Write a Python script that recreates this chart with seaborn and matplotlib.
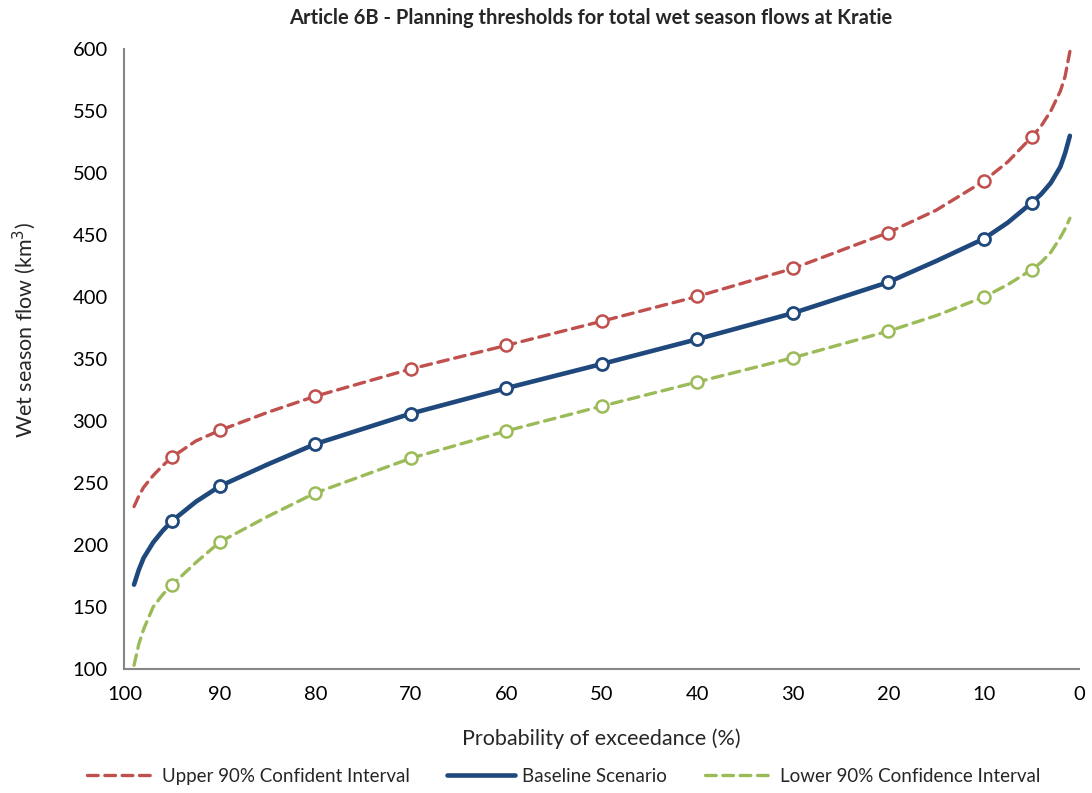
import matplotlib
matplotlib.use("Agg")
import matplotlib.pyplot as plt
import seaborn as sns
import pandas as pd

# Probability of exceedance (%) and wet season flow (km3) for each scenario
prob = [99, 98.5, 98, 97, 96, 95, 92.5, 90, 85, 80, 70, 60, 50, 40, 30, 20, 15, 10,
        7.5, 5, 4, 3, 2, 1.5, 1]
upper = [231, 239.5, 246.5, 256, 264, 271, 284, 292.5, 307, 320, 342, 361, 380.5, 400.5,
         423, 452, 470, 493.5, 509, 529, 538, 550, 566, 578, 598]
baseline = [168, 180, 189.5, 202, 211.5, 219.5, 235, 247.5, 265, 281.5, 306, 326.5, 346, 366,
            387, 412, 429, 447, 460, 476, 483, 492, 505, 516, 530]
lower = [103, 120, 132, 150, 160, 168, 186, 202.5, 223, 242, 270, 292, 312, 331.5,
         351, 372.5, 385, 400, 410, 422, 428, 436, 448, 455, 463.5]

# Exceedance levels that carry a marker
marker_prob = [95, 90, 80, 70, 60, 50, 40, 30, 20, 10, 5]

series_names = ["Upper 90% Confident Interval", "Baseline Scenario",
                "Lower 90% Confidence Interval"]
x_ticks = [100, 90, 80, 70, 60, 50, 40, 30, 20, 10, 0]
y_ticks = [100, 150, 200, 250, 300, 350, 400, 450, 500, 550, 600]

RED = "#C0504D"
BLUE = "#1F497D"
GREEN = "#9BBB59"
GREY = "#868686"

sns.set_style("white")
plt.rcParams["font.family"] = ["Lato", "DejaVu Sans"]

fig = plt.figure(figsize=(10.92, 7.93), dpi=100)
ax = fig.add_axes([0.114, 0.1564, 0.8745, 0.7818])

df = pd.DataFrame({"prob": prob, "upper": upper, "baseline": baseline, "lower": lower})
dm = df[df["prob"].isin(marker_prob)]

styles = [
    ("upper", RED, (0, (3.2, 2.0)), 2.4),
    ("baseline", BLUE, "-", 3.3),
    ("lower", GREEN, (0, (3.2, 2.0)), 2.4),
]
for (col, color, ls, lw), name in zip(styles, series_names):
    sns.lineplot(data=df, x="prob", y=col, ax=ax, color=color, linewidth=lw,
                 linestyle=ls, sort=False, label=name, solid_capstyle="round",
                 dash_capstyle="round", solid_joinstyle="round", estimator=None)
    sns.scatterplot(data=dm, x="prob", y=col, ax=ax, color="white",
                    edgecolor=color, linewidth=1.8 if col != "baseline" else 2.0,
                    s=75, zorder=5, legend=False)

ax.set_xlim(100, 0)
ax.set_ylim(100, 600)
ax.set_xticks(x_ticks)
ax.set_yticks(y_ticks)
ax.tick_params(axis="both", labelsize=14.5, colors="black", direction="out",
               length=6, width=1.2, pad=6)
ax.tick_params(axis="both", color=GREY)
for side in ["top", "right"]:
    ax.spines[side].set_visible(False)
for side in ["left", "bottom"]:
    ax.spines[side].set_color(GREY)
    ax.spines[side].set_linewidth(1.5)
ax.set_xlabel("")
ax.set_ylabel("")

fig.text(0.541, 0.977, "Article 6B - Planning thresholds for total wet season flows at Kratie",
         ha="center", va="center", fontsize=14.5, fontweight="bold")
fig.text(0.551, 0.069, "Probability of exceedance (%)", ha="center", va="center",
         fontsize=15.5)
fig.text(0.022, 0.584, "Wet season flow (km$^3$)", ha="center", va="center",
         rotation=90, fontsize=15.5)

leg = ax.legend(loc="center", bbox_to_anchor=(0.516, 0.021), bbox_transform=fig.transFigure,
                ncol=3, frameon=False, fontsize=13.5, handlelength=3.6, columnspacing=2.0,
                handletextpad=0.4)

fig.savefig("out.png", dpi=100)
